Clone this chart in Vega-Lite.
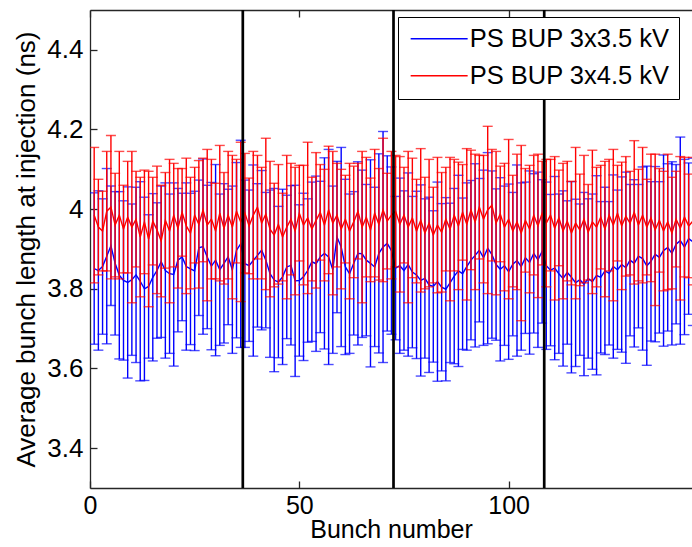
{
"$schema":"https://vega.github.io/schema/vega-lite/v6.json",
"width":602,"height":478,
"autosize":{"type":"none"},
"padding":{"left":90,"top":10,"right":0,"bottom":59},
"background":"white",
"config":{"font":"Liberation Sans","view":{"stroke":null},
"axis":{"grid":false,"domainColor":"#262626","domainWidth":1.3,"tickColor":"#262626","tickWidth":1.3,"tickSize":-7,"labelPadding":14,"labelFontSize":26,"labelColor":"black","titleFontSize":26,"titleFontWeight":"normal","titleColor":"black","labelFont":"Liberation Sans","titleFont":"Liberation Sans"}},
"datasets":{
"blue":[
{"n":1,"m":3.851,"e":0.19},{"n":2,"m":3.846,"e":0.20},{"n":3,"m":3.856,"e":0.17},{"n":4,"m":3.882,"e":0.22},{"n":5,"m":3.908,"e":0.15},{"n":6,"m":3.864,"e":0.18},{"n":7,"m":3.834,"e":0.21},{"n":8,"m":3.821,"e":0.20},{"n":9,"m":3.816,"e":0.24},{"n":10,"m":3.823,"e":0.19},{"n":11,"m":3.835,"e":0.22},{"n":12,"m":3.819,"e":0.25},{"n":13,"m":3.800,"e":0.23},{"n":14,"m":3.806,"e":0.18},{"n":15,"m":3.829,"e":0.21},{"n":16,"m":3.846,"e":0.17},{"n":17,"m":3.868,"e":0.19},{"n":18,"m":3.846,"e":0.22},{"n":19,"m":3.838,"e":0.20},{"n":20,"m":3.836,"e":0.23},{"n":21,"m":3.872,"e":0.18},{"n":22,"m":3.880,"e":0.16},{"n":23,"m":3.856,"e":0.21},{"n":24,"m":3.850,"e":0.19},{"n":25,"m":3.845,"e":0.20},{"n":26,"m":3.903,"e":0.17},{"n":27,"m":3.906,"e":0.22},{"n":28,"m":3.880,"e":0.18},{"n":29,"m":3.857,"e":0.21},{"n":30,"m":3.872,"e":0.24},{"n":31,"m":3.848,"e":0.19},{"n":32,"m":3.864,"e":0.20},{"n":33,"m":3.880,"e":0.17},{"n":34,"m":3.848,"e":0.21},{"n":35,"m":3.897,"e":0.22},{"n":36,"m":3.913,"e":0.26},
{"n":37,"m":3.863,"e":0.21},{"n":38,"m":3.858,"e":0.19},{"n":39,"m":3.871,"e":0.24},{"n":40,"m":3.884,"e":0.18},{"n":41,"m":3.897,"e":0.20},{"n":42,"m":3.872,"e":0.17},{"n":43,"m":3.838,"e":0.21},{"n":44,"m":3.822,"e":0.23},{"n":45,"m":3.817,"e":0.19},{"n":46,"m":3.830,"e":0.22},{"n":47,"m":3.855,"e":0.18},{"n":48,"m":3.859,"e":0.20},{"n":49,"m":3.820,"e":0.24},{"n":50,"m":3.821,"e":0.19},{"n":51,"m":3.830,"e":0.21},{"n":52,"m":3.846,"e":0.18},{"n":53,"m":3.868,"e":0.20},{"n":54,"m":3.863,"e":0.22},{"n":55,"m":3.880,"e":0.19},{"n":56,"m":3.889,"e":0.24},{"n":57,"m":3.880,"e":0.27},{"n":58,"m":3.848,"e":0.21},{"n":59,"m":3.930,"e":0.19},{"n":60,"m":3.905,"e":0.25},{"n":61,"m":3.855,"e":0.22},{"n":62,"m":3.838,"e":0.20},{"n":63,"m":3.864,"e":0.18},{"n":64,"m":3.889,"e":0.23},{"n":65,"m":3.888,"e":0.21},{"n":66,"m":3.872,"e":0.19},{"n":67,"m":3.864,"e":0.26},{"n":68,"m":3.855,"e":0.20},{"n":69,"m":3.889,"e":0.25},{"n":70,"m":3.905,"e":0.29},{"n":71,"m":3.914,"e":0.22},{"n":72,"m":3.896,"e":0.21},
{"n":73,"m":3.852,"e":0.18},{"n":74,"m":3.858,"e":0.22},{"n":75,"m":3.846,"e":0.20},{"n":76,"m":3.861,"e":0.23},{"n":77,"m":3.842,"e":0.19},{"n":78,"m":3.835,"e":0.21},{"n":79,"m":3.821,"e":0.24},{"n":80,"m":3.826,"e":0.20},{"n":81,"m":3.810,"e":0.22},{"n":82,"m":3.806,"e":0.19},{"n":83,"m":3.818,"e":0.25},{"n":84,"m":3.804,"e":0.21},{"n":85,"m":3.799,"e":0.23},{"n":86,"m":3.815,"e":0.20},{"n":87,"m":3.832,"e":0.22},{"n":88,"m":3.845,"e":0.24},{"n":89,"m":3.838,"e":0.19},{"n":90,"m":3.856,"e":0.21},{"n":91,"m":3.872,"e":0.20},{"n":92,"m":3.884,"e":0.23},{"n":93,"m":3.897,"e":0.18},{"n":94,"m":3.878,"e":0.22},{"n":95,"m":3.902,"e":0.24},{"n":96,"m":3.886,"e":0.21},{"n":97,"m":3.861,"e":0.19},{"n":98,"m":3.849,"e":0.23},{"n":99,"m":3.858,"e":0.20},{"n":100,"m":3.843,"e":0.22},{"n":101,"m":3.862,"e":0.18},{"n":102,"m":3.871,"e":0.24},{"n":103,"m":3.856,"e":0.21},{"n":104,"m":3.878,"e":0.19},{"n":105,"m":3.866,"e":0.23},{"n":106,"m":3.889,"e":0.20},{"n":107,"m":3.873,"e":0.22},{"n":108,"m":3.894,"e":0.18},
{"n":109,"m":3.858,"e":0.21},{"n":110,"m":3.847,"e":0.19},{"n":111,"m":3.852,"e":0.23},{"n":112,"m":3.838,"e":0.20},{"n":113,"m":3.826,"e":0.22},{"n":114,"m":3.841,"e":0.18},{"n":115,"m":3.829,"e":0.24},{"n":116,"m":3.815,"e":0.21},{"n":117,"m":3.823,"e":0.19},{"n":118,"m":3.812,"e":0.23},{"n":119,"m":3.826,"e":0.20},{"n":120,"m":3.818,"e":0.22},{"n":121,"m":3.834,"e":0.25},{"n":122,"m":3.829,"e":0.19},{"n":123,"m":3.845,"e":0.21},{"n":124,"m":3.839,"e":0.18},{"n":125,"m":3.856,"e":0.23},{"n":126,"m":3.848,"e":0.20},{"n":127,"m":3.861,"e":0.22},{"n":128,"m":3.853,"e":0.24},{"n":129,"m":3.872,"e":0.19},{"n":130,"m":3.864,"e":0.21},{"n":131,"m":3.882,"e":0.18},{"n":132,"m":3.876,"e":0.23},{"n":133,"m":3.858,"e":0.25},{"n":134,"m":3.869,"e":0.20},{"n":135,"m":3.887,"e":0.22},{"n":136,"m":3.879,"e":0.19},{"n":137,"m":3.896,"e":0.24},{"n":138,"m":3.904,"e":0.21},{"n":139,"m":3.889,"e":0.23},{"n":140,"m":3.912,"e":0.20},{"n":141,"m":3.921,"e":0.26},{"n":142,"m":3.905,"e":0.22},{"n":143,"m":3.926,"e":0.19},{"n":144,"m":3.918,"e":0.21}
],
"red":[
{"n":1,"m":3.985,"e":0.17},{"n":2,"m":3.955,"e":0.12},{"n":3,"m":3.945,"e":0.10},{"n":4,"m":3.995,"e":0.15},{"n":5,"m":4.005,"e":0.18},{"n":6,"m":3.960,"e":0.13},{"n":7,"m":3.985,"e":0.16},{"n":8,"m":3.950,"e":0.11},{"n":9,"m":3.980,"e":0.14},{"n":10,"m":3.955,"e":0.19},{"n":11,"m":3.975,"e":0.12},{"n":12,"m":3.930,"e":0.15},{"n":13,"m":3.968,"e":0.13},{"n":14,"m":3.925,"e":0.17},{"n":15,"m":3.970,"e":0.11},{"n":16,"m":3.948,"e":0.16},{"n":17,"m":3.920,"e":0.14},{"n":18,"m":3.972,"e":0.12},{"n":19,"m":3.945,"e":0.18},{"n":20,"m":3.985,"e":0.13},{"n":21,"m":3.952,"e":0.15},{"n":22,"m":3.992,"e":0.11},{"n":23,"m":3.958,"e":0.17},{"n":24,"m":3.940,"e":0.14},{"n":25,"m":3.985,"e":0.12},{"n":26,"m":3.962,"e":0.16},{"n":27,"m":3.998,"e":0.13},{"n":28,"m":3.960,"e":0.19},{"n":29,"m":3.975,"e":0.15},{"n":30,"m":3.945,"e":0.12},{"n":31,"m":3.990,"e":0.17},{"n":32,"m":3.952,"e":0.14},{"n":33,"m":3.985,"e":0.16},{"n":34,"m":3.955,"e":0.18},{"n":35,"m":3.995,"e":0.13},{"n":36,"m":3.968,"e":0.20},
{"n":37,"m":3.990,"e":0.15},{"n":38,"m":3.958,"e":0.12},{"n":39,"m":3.985,"e":0.16},{"n":40,"m":4.005,"e":0.13},{"n":41,"m":3.965,"e":0.14},{"n":42,"m":3.988,"e":0.19},{"n":43,"m":3.950,"e":0.17},{"n":44,"m":3.935,"e":0.13},{"n":45,"m":3.962,"e":0.15},{"n":46,"m":3.930,"e":0.11},{"n":47,"m":3.955,"e":0.18},{"n":48,"m":3.975,"e":0.14},{"n":49,"m":3.945,"e":0.16},{"n":50,"m":3.990,"e":0.12},{"n":51,"m":3.960,"e":0.15},{"n":52,"m":3.978,"e":0.19},{"n":53,"m":3.950,"e":0.13},{"n":54,"m":3.972,"e":0.17},{"n":55,"m":3.992,"e":0.12},{"n":56,"m":3.960,"e":0.14},{"n":57,"m":3.998,"e":0.16},{"n":58,"m":3.965,"e":0.18},{"n":59,"m":3.985,"e":0.13},{"n":60,"m":3.950,"e":0.15},{"n":61,"m":3.975,"e":0.11},{"n":62,"m":3.945,"e":0.17},{"n":63,"m":3.968,"e":0.14},{"n":64,"m":3.995,"e":0.12},{"n":65,"m":3.955,"e":0.19},{"n":66,"m":3.980,"e":0.15},{"n":67,"m":3.948,"e":0.13},{"n":68,"m":3.990,"e":0.16},{"n":69,"m":3.962,"e":0.14},{"n":70,"m":3.998,"e":0.18},{"n":71,"m":3.970,"e":0.12},{"n":72,"m":3.985,"e":0.16},
{"n":73,"m":3.995,"e":0.14},{"n":74,"m":3.962,"e":0.17},{"n":75,"m":3.985,"e":0.12},{"n":76,"m":3.955,"e":0.19},{"n":77,"m":3.978,"e":0.15},{"n":78,"m":3.945,"e":0.13},{"n":79,"m":3.972,"e":0.18},{"n":80,"m":3.940,"e":0.14},{"n":81,"m":3.965,"e":0.16},{"n":82,"m":3.935,"e":0.12},{"n":83,"m":3.960,"e":0.17},{"n":84,"m":3.942,"e":0.15},{"n":85,"m":3.975,"e":0.13},{"n":86,"m":3.950,"e":0.18},{"n":87,"m":3.985,"e":0.14},{"n":88,"m":3.958,"e":0.16},{"n":89,"m":3.992,"e":0.12},{"n":90,"m":3.962,"e":0.19},{"n":91,"m":3.998,"e":0.15},{"n":92,"m":3.968,"e":0.17},{"n":93,"m":4.005,"e":0.13},{"n":94,"m":3.975,"e":0.16},{"n":95,"m":3.998,"e":0.21},{"n":96,"m":4.010,"e":0.14},{"n":97,"m":3.965,"e":0.18},{"n":98,"m":3.988,"e":0.12},{"n":99,"m":3.955,"e":0.16},{"n":100,"m":3.975,"e":0.20},{"n":101,"m":3.945,"e":0.14},{"n":102,"m":3.968,"e":0.17},{"n":103,"m":3.940,"e":0.22},{"n":104,"m":3.972,"e":0.13},{"n":105,"m":3.950,"e":0.16},{"n":106,"m":3.985,"e":0.15},{"n":107,"m":3.958,"e":0.18},{"n":108,"m":3.990,"e":0.13},
{"n":109,"m":3.965,"e":0.16},{"n":110,"m":3.985,"e":0.14},{"n":111,"m":3.952,"e":0.18},{"n":112,"m":3.978,"e":0.12},{"n":113,"m":3.945,"e":0.17},{"n":114,"m":3.970,"e":0.15},{"n":115,"m":3.940,"e":0.13},{"n":116,"m":3.965,"e":0.19},{"n":117,"m":3.948,"e":0.14},{"n":118,"m":3.975,"e":0.16},{"n":119,"m":3.942,"e":0.12},{"n":120,"m":3.968,"e":0.18},{"n":121,"m":3.955,"e":0.15},{"n":122,"m":3.980,"e":0.13},{"n":123,"m":3.950,"e":0.17},{"n":124,"m":3.985,"e":0.14},{"n":125,"m":3.960,"e":0.19},{"n":126,"m":3.990,"e":0.12},{"n":127,"m":3.958,"e":0.16},{"n":128,"m":3.982,"e":0.15},{"n":129,"m":3.965,"e":0.13},{"n":130,"m":3.992,"e":0.18},{"n":131,"m":3.960,"e":0.14},{"n":132,"m":3.985,"e":0.17},{"n":133,"m":3.955,"e":0.12},{"n":134,"m":3.978,"e":0.16},{"n":135,"m":3.948,"e":0.19},{"n":136,"m":3.972,"e":0.13},{"n":137,"m":3.945,"e":0.15},{"n":138,"m":3.968,"e":0.17},{"n":139,"m":3.940,"e":0.14},{"n":140,"m":3.975,"e":0.12},{"n":141,"m":3.952,"e":0.18},{"n":142,"m":3.980,"e":0.15},{"n":143,"m":3.958,"e":0.13},{"n":144,"m":3.970,"e":0.16}
],
"sep":[{"x":36.5},{"x":72.5},{"x":108.5}]
},
"resolve":{"axis":{"x":"independent","y":"independent"}},
"layer":[
{"data":{"name":"blue"},
 "mark":{"type":"errorbar","clip":true,"color":"#0000ff","thickness":1.4,"ticks":{"size":10,"thickness":1.4,"color":"#0000ff"},"rule":{"color":"#0000ff","strokeWidth":1.4}},
 "encoding":{
  "x":{"field":"n","type":"quantitative","scale":{"domain":[0,143.8],"nice":false,"zero":false},
       "axis":{"orient":"bottom","values":[0,50,100],"title":"Bunch number","labelFlush":false,"labelPadding":12,"labelFontSize":25,"titleFontSize":25,"titlePadding":-1}},
  "y":{"field":"m","type":"quantitative","scale":{"domain":[3.3,4.5],"nice":false,"zero":false},
       "axis":{"orient":"left","values":[3.4,3.6,3.8,4,4.2,4.4],"format":"~g","title":"Average bunch length at injection (ns)","titlePadding":7}},
  "yError":{"field":"e"}}},
{"data":{"name":"blue"},
 "mark":{"type":"line","clip":true,"strokeWidth":1.4},
 "encoding":{
  "x":{"field":"n","type":"quantitative","axis":null},
  "y":{"field":"m","type":"quantitative","axis":null},
  "color":{"datum":"PS BUP 3x3.5 kV","type":"nominal","scale":{"domain":["PS BUP 3x3.5 kV","PS BUP 3x4.5 kV"],"range":["#0000ff","#ff0000"]},
   "legend":{"title":null,"orient":"none","legendX":308,"legendY":7,"fillColor":"white","strokeColor":"black","padding":9,"symbolType":"M-4,0H4","symbolSize":203,"symbolStrokeWidth":1.5,"symbolOffset":19.4,"labelOffset":17.75,"labelFontSize":25.5,"labelFont":"Liberation Sans","labelColor":"black","rowPadding":10,"labelLimit":400}}}},
{"data":{"name":"red"},
 "mark":{"type":"errorbar","clip":true,"color":"#ff0000","thickness":1.4,"ticks":{"size":10,"thickness":1.4,"color":"#ff0000"},"rule":{"color":"#ff0000","strokeWidth":1.4}},
 "encoding":{
  "x":{"field":"n","type":"quantitative","axis":null},
  "y":{"field":"m","type":"quantitative","axis":null},
  "yError":{"field":"e"}}},
{"data":{"name":"red"},
 "mark":{"type":"line","clip":true,"strokeWidth":1.4},
 "encoding":{
  "x":{"field":"n","type":"quantitative","axis":null},
  "y":{"field":"m","type":"quantitative","axis":null},
  "color":{"datum":"PS BUP 3x4.5 kV","type":"nominal"}}},
{"data":{"name":"sep"},
 "mark":{"type":"rule","color":"black","strokeWidth":2.7},
 "encoding":{
  "x":{"field":"x","type":"quantitative","axis":{"orient":"top","values":[0,50,100],"labels":false,"title":null}}}}
]
}
